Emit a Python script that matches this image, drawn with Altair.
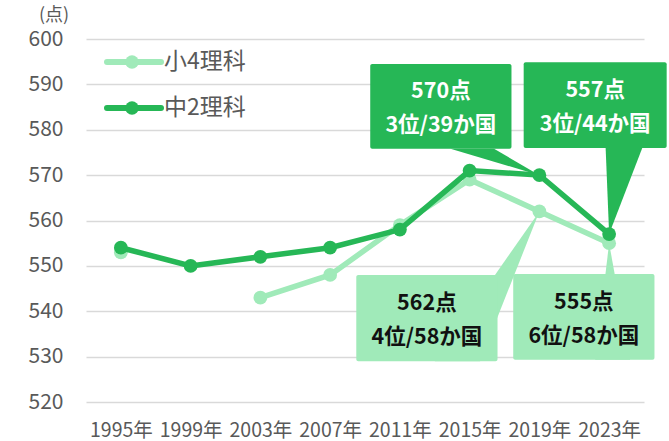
import altair as alt
import pandas as pd

# ---- data ----
years = [1995, 1999, 2003, 2007, 2011, 2015, 2019, 2023]
grade4_science = [553, None, 543, 548, 559, 569, 562, 555]   # 小4理科
grade8_science = [554, 550, 552, 554, 558, 571, 570, 557]    # 中2理科
series_names = ["小4理科", "中2理科"]
y_ticks = [520, 530, 540, 550, 560, 570, 580, 590, 600]

# callouts: series, year of the pointed value, text lines
callout_series = ["中2理科", "中2理科", "小4理科", "小4理科"]
callout_years = [2019, 2023, 2019, 2023]
callout_line1 = ["570点", "557点", "562点", "555点"]
callout_line2 = ["3位/39か国", "3位/44か国", "4位/58か国", "6位/58か国"]

LIGHT = "#A0EAB9"
DARK = "#26B756"
FONT = "Noto Sans CJK JP"
GREY_TEXT = "#595959"

colors = {"小4理科": LIGHT, "中2理科": DARK}
values = {"小4理科": grade4_science, "中2理科": grade8_science}

# ---- layout (box geometry in data units: year, score) ----
box_geom = [  # x0, x1, y_top, y_bottom, base_left, base_right
    (2009.3, 2017.4, 594.5, 575.8, 2013.9, 2016.4),
    (2018.1, 2026.3, 594.9, 576.0, 2022.8, 2024.9),
    (2008.5, 2016.6, 548.0, 529.0, 2013.0, 2015.6),
    (2017.5, 2025.6, 548.2, 529.3, 2022.2, 2024.2),
]

def series_df(name):
    rows = []
    seg = 0
    for y, v in zip(years, values[name]):
        if v is None:
            seg += 1
            continue
        rows.append({"year": y, "score": v, "series": name, "seg": seg})
    return pd.DataFrame(rows)

light_df = series_df("小4理科")
dark_df = series_df("中2理科")

box_rows, tri_rows, text_rows = [], [], []
for i, (s, yr, l1, l2) in enumerate(zip(callout_series, callout_years, callout_line1, callout_line2)):
    x0, x1, yt, yb, bl, br = box_geom[i]
    tip = values[s][years.index(yr)]
    box_rows.append({"id": i, "series": s, "x0": x0, "x1": x1, "yt": yt, "yb": yb})
    tri_rows.append({"id": i, "series": s, "yy": yb, "xa": bl, "xb": br})
    tri_rows.append({"id": i, "series": s, "yy": tip, "xa": yr, "xb": yr})
    text_rows.append({"id": i, "series": s, "xc": (x0 + x1) / 2, "yc": (yt + yb) / 2,
                      "l1": l1, "l2": l2})
box_df = pd.DataFrame(box_rows)
tri_df = pd.DataFrame(tri_rows)
text_df = pd.DataFrame(text_rows)

xscale = alt.Scale(domain=[1993, 2025], nice=False, zero=False)
yscale = alt.Scale(domain=[520, 600], nice=False, zero=False)

x_axis = alt.Axis(values=years, labelExpr="datum.value + '年'", grid=False, domain=False,
                  ticks=False, labelPadding=19, labelFontSize=19.5, labelColor=GREY_TEXT,
                  labelFont=FONT, title=None, labelOverlap=False)
y_axis = alt.Axis(values=y_ticks, grid=True, gridColor="#D9D9D9",
                  gridWidth=1.5, domain=False, ticks=False, labelPadding=23,
                  labelFontSize=21, labelColor=GREY_TEXT, labelFont=FONT, title=None)

X = lambda f: alt.X(f, scale=xscale, axis=x_axis)
Y = lambda f: alt.Y(f, scale=yscale, axis=y_axis)

def line_layer(df, color):
    base = alt.Chart(df)
    line = base.mark_line(color=color, strokeWidth=5.5).encode(
        x=X("year:Q"), y=Y("score:Q"), detail="seg:N")
    pts = base.mark_circle(color=color, size=190, opacity=1).encode(
        x=X("year:Q"), y=Y("score:Q"))
    return line + pts

def callout_layer(name, fill, text_color):
    b = alt.Chart(box_df[box_df.series == name]).mark_rect(color=fill, cornerRadius=2).encode(
        x=X("x0:Q"), x2="x1:Q", y=Y("yt:Q"), y2="yb:Q")
    t = alt.Chart(tri_df[tri_df.series == name]).mark_area(color=fill, orient="horizontal",
                                                             opacity=1).encode(
        y=Y("yy:Q"), x=X("xa:Q"), x2="xb:Q", detail="id:N")
    tdf = text_df[text_df.series == name]
    t1 = alt.Chart(tdf).mark_text(color=text_color, font=FONT, fontSize=21.5, fontWeight="bold",
                                  baseline="middle", dy=-14).encode(
        x=X("xc:Q"), y=Y("yc:Q"), text="l1:N")
    t2 = alt.Chart(tdf).mark_text(color=text_color, font=FONT, fontSize=21.5, fontWeight="bold",
                                  baseline="middle", dy=20).encode(
        x=X("xc:Q"), y=Y("yc:Q"), text="l2:N")
    return t + b + t1 + t2

legend_layers = []
for k, name in enumerate(series_names):
    one = alt.Chart(pd.DataFrame({"series": [name]}))
    ypix = 23 + 46 * k
    legend_layers.append(one.mark_rule(strokeWidth=6, strokeCap="round", color=colors[name]).encode(
        x=alt.value(21), x2=alt.value(75), y=alt.value(ypix)))
    legend_layers.append(one.mark_circle(size=180, opacity=1, color=colors[name]).encode(
        x=alt.value(46), y=alt.value(ypix)))
    legend_layers.append(one.mark_text(align="left", baseline="middle", font=FONT,
                                       fontSize=23, color=GREY_TEXT).encode(
        x=alt.value(78), y=alt.value(ypix), text="series:N"))

unit_label = alt.Chart(pd.DataFrame({"t": ["(点)"]})).mark_text(
    font=FONT, fontSize=18, color=GREY_TEXT, align="center", baseline="middle").encode(
    x=alt.value(-32), y=alt.value(-23), text="t:N")

chart = alt.layer(
    line_layer(light_df, LIGHT),
    callout_layer("小4理科", LIGHT, "#111111"),
    line_layer(dark_df, DARK),
    callout_layer("中2理科", DARK, "#FFFFFF"),
    *legend_layers,
    unit_label,
).properties(
    width=558, height=363,
    autosize=alt.AutoSizeParams(type="none"),
    padding={"left": 86, "top": 39, "right": 25, "bottom": 39},
    background="white",
).configure_view(stroke=None)

chart.save("out.html", embed_options={"renderer": "svg", "actions": False})
